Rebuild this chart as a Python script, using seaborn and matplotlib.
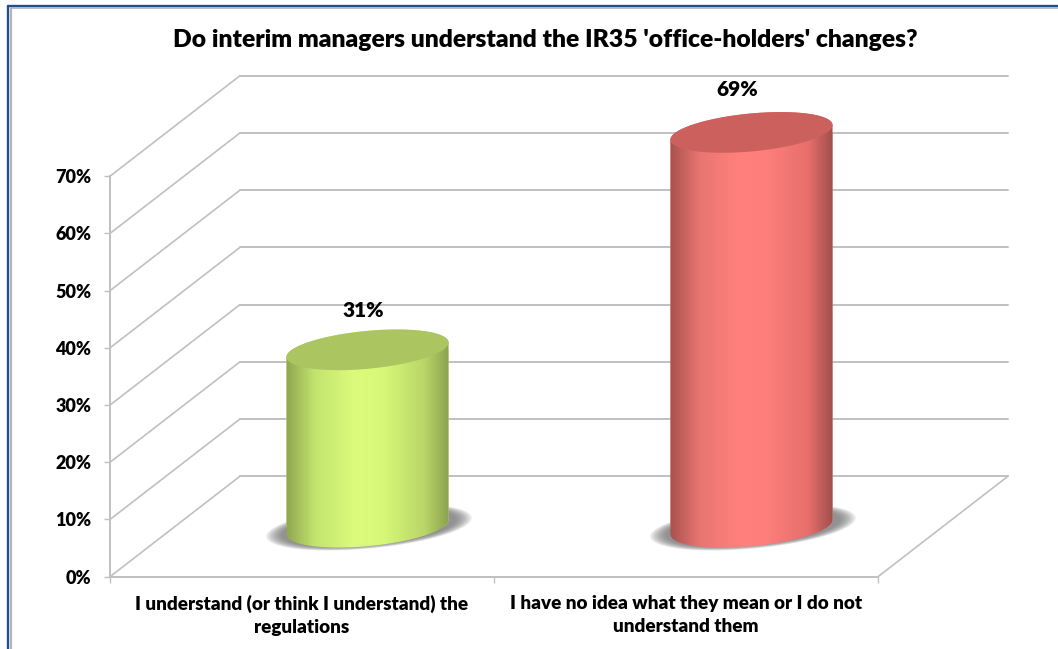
import numpy as np
import pandas as pd
import matplotlib
matplotlib.use("Agg")
import matplotlib.pyplot as plt
import seaborn as sns
from matplotlib.colors import LinearSegmentedColormap
from matplotlib.lines import Line2D
from matplotlib.path import Path
from matplotlib.patches import Polygon
from matplotlib.transforms import Affine2D

# ---- data ----
categories = ["I understand (or think I understand) the\nregulations",
              "I have no idea what they mean or I do not\nunderstand them"]
values = [31, 69]
y_ticks = [0, 10, 20, 30, 40, 50, 60, 70]
y_tick_labels = ["0%", "10%", "20%", "30%", "40%", "50%", "60%", "70%"]
title = "Do interim managers understand the IR35 'office-holders' changes?"
side_colors = [["#8fa650", "#c3e56f", "#dcfb7c", "#d6f878", "#b9d668", "#8ca24f"],
               ["#a8524e", "#e87571", "#ff807c", "#fd7e7a", "#e66f6c", "#a04f4b"]]
top_colors = ["#abc661", "#cc605c"]
bar_positions = [0.0, 0.18, 0.42, 0.6, 0.85, 1.0]

# ---- layout (pixels) ----
W, H = 1058, 649
L, R, B, T = 110, 878, 576.7, 176.2
DEPTH = (130, 100.5)        # front plane to back wall
MID = (65.5, 49.5)          # where the cylinders stand
SHEAR = 0.09
MINOR = 19
GRID = "#c0c0c0"
FONT = ["Lato", "DejaVu Sans"]
HEAVY = 800

sns.set_theme(style="white")
plt.rcParams["font.family"] = FONT
plt.rcParams["font.weight"] = "bold"

fig = plt.figure(figsize=(W / 100, H / 100), dpi=100, facecolor="white")
ax = fig.add_axes([L / W, (H - B) / H, (R - L) / W, (B - T) / H])
ax.patch.set_alpha(0)

df = pd.DataFrame({"category": categories, "value": values})
sns.barplot(data=df, x="category", y="value", hue="category", palette=[c[2] for c in side_colors],
            width=0.422, legend=False, ax=ax, zorder=4, linewidth=0)
ax.set_xlim(-0.5, 1.5)
ax.set_ylim(0, 70)
ax.set_xlabel("")
ax.set_ylabel("")
PX_CAT = (R - L) / 2
PX_PCT = (B - T) / 70

back = ax.transData + Affine2D().translate(*DEPTH)
mid = ax.transData + Affine2D().translate(*MID)

# ---- walls ----
for v in y_ticks:
    ax.plot([-0.5, 1.5], [v, v], transform=back, color=GRID, lw=1.4, clip_on=False, zorder=1)
    ax.add_line(Line2D([L, L + DEPTH[0]],
                       [H - B + v * PX_PCT, H - B + v * PX_PCT + DEPTH[1]],
                       transform=None, color=GRID, lw=1.2, clip_on=False, zorder=1))
fig.add_artist(Line2D([R, R + DEPTH[0]], [H - B, H - B + DEPTH[1]], transform=None,
                      color=GRID, lw=1.2, zorder=1))

for s in ["top", "right"]:
    ax.spines[s].set_visible(False)
for s in ["left", "bottom"]:
    ax.spines[s].set_color(GRID)
    ax.spines[s].set_linewidth(1.4)
    ax.spines[s].set_zorder(1)

ax.set_yticks(y_ticks)
ax.set_yticklabels(y_tick_labels, fontsize=13, fontweight=HEAVY, color="black")
ax.tick_params(axis="y", length=4.5, width=1, color=GRID, pad=9, left=True)
ax.set_xticks([0, 1])
ax.set_xticklabels(categories, fontsize=13.6, fontweight=HEAVY, color="black", linespacing=1.42)
ax.set_xticks([-0.5, 0.5, 1.5], minor=True)
ax.tick_params(axis="x", which="major", length=0, pad=13)
ax.tick_params(axis="x", which="minor", length=4.5, width=1, color=GRID, bottom=True)


def ellipse(cx, cy, a, b, t):
    """Sheared ellipse in data units, measured in pixels around (cx, cy)."""
    dx = a * np.cos(t)
    dy = b * np.sin(t) + SHEAR * dx
    return cx + dx / PX_CAT, cy + dy / PX_PCT


# ---- cylinders ----
for i, patch in enumerate(list(ax.patches)):
    x0, w, h = patch.get_x(), patch.get_width(), patch.get_height()
    cx = x0 + w / 2
    a = w / 2 * PX_CAT

    # soft contact shadow
    t = np.linspace(0, 2 * np.pi, 120)
    for scale in np.linspace(1.02, 0.86, 14):
        sx, sy = ellipse(cx + 1.5 / PX_CAT, 0, 101 * scale, 21 * scale, t)
        ax.add_patch(Polygon(np.c_[sx, sy], closed=True, transform=mid, fc="#6f6f6f", ec="none",
                             alpha=0.09, clip_on=False, zorder=2))

    # side outline: lower half of the base, then upper half of the top
    lo = np.linspace(np.pi, 2 * np.pi, 80)
    up = np.linspace(0, np.pi, 80)
    bx, by = ellipse(cx, 0, a, MINOR, lo)
    tx, ty = ellipse(cx, h, a, MINOR, up)
    outline = Path(np.r_[np.c_[bx, by], np.c_[tx, ty], [[bx[0], by[0]]]], closed=True)

    patch.set_transform(mid)
    patch.set_clip_box(fig.bbox)
    patch.set_clip_path(outline, mid)

    cmap = LinearSegmentedColormap.from_list("side", list(zip(bar_positions, side_colors[i])))
    im = ax.imshow(np.linspace(0, 1, 256)[None, :], cmap=cmap, aspect="auto",
                   extent=[x0, x0 + w, -5, h + 5], transform=mid, zorder=5,
                   interpolation="bilinear")
    im.set_clip_box(fig.bbox)
    im.set_clip_path(outline, mid)

    # lit top face
    ex, ey = ellipse(cx, h, a, MINOR, t)
    ax.add_patch(Polygon(np.c_[ex, ey], closed=True, transform=mid, fc=top_colors[i], ec="none",
                         clip_on=False, zorder=6))

ax.set_xlim(-0.5, 1.5)
ax.set_ylim(0, 70)

# ---- data labels ----
label_shift = [(-4, 39), (-14, 43)]
for i, patch in enumerate(list(ax.patches)[:2]):
    cx = patch.get_x() + patch.get_width() / 2
    ax.text(cx, values[i], f"{values[i]}%",
            transform=mid + Affine2D().translate(*label_shift[i]),
            ha="center", va="center", fontsize=15, fontweight=HEAVY, color="black",
            clip_on=False, zorder=7)

# ---- title & picture frame ----
fig.text(545 / W, 1 - 40 / H, title, ha="center", va="center", fontsize=17.75,
         fontweight=HEAVY, color="black")
for coords, color, lw in [(([7.8, 7.8], [0, H - 5.5]), "#1f4f8f", 1.7),
                          (([7.8, W], [H - 5.5, H - 5.5]), "#1f4f8f", 1.7),
                          (([10.5, 10.5], [0, H - 8]), "#b5b5b5", 1.6),
                          (([10.5, W], [H - 8, H - 8]), "#b5b5b5", 1.3)]:
    fig.add_artist(Line2D(coords[0], coords[1], transform=None, color=color, lw=lw))

fig.savefig("out.png", dpi=100, facecolor="white")
